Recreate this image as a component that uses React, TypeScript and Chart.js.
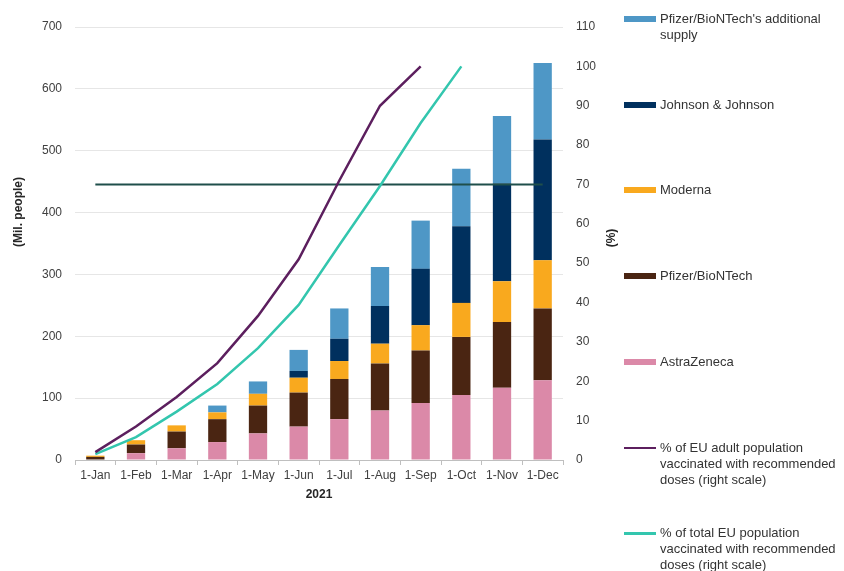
import React, { useEffect, useRef } from "react";
import { Chart, registerables } from "chart.js";

Chart.register(...registerables);

const months = ["1-Jan", "1-Feb", "1-Mar", "1-Apr", "1-May", "1-Jun", "1-Jul", "1-Aug", "1-Sep", "1-Oct", "1-Nov", "1-Dec"];
const astraZeneca = [0, 11, 19, 29, 43, 54, 66, 80, 92, 105, 117, 129];
const pfizerBioNTech = [5, 14, 27, 37, 45, 55, 65, 76, 85, 94, 106, 116];
const moderna = [2, 7, 10, 11, 19, 24, 29, 32, 41, 55, 66, 78];
const johnsonJohnson = [0, 0, 0, 0, 0, 11, 36, 61, 91, 124, 158, 195];
const pfizerAdditional = [0, 0, 0, 11, 20, 34, 49, 63, 78, 93, 109, 124];
const adultVaccinatedPct = [2, 8.5, 16, 24.6, 36.6, 51, 71, 90, 100, null, null, null];
const totalVaccinatedPct = [1.5, 5.8, 12.3, 19.3, 28.4, 39.4, 54.6, 69.6, 85.6, 100, null, null];
const targetPct = [70, 70, 70, 70, 70, 70, 70, 70, 70, 70, 70, 70];
const leftTicks = [0, 100, 200, 300, 400, 500, 600, 700];
const rightTicks = [0, 10, 20, 30, 40, 50, 60, 70, 80, 90, 100, 110];

const COLORS = {
  extra: "#4E97C6",
  jj: "#00305E",
  moderna: "#F9A91E",
  pfizer: "#4A2512",
  az: "#DB89A8",
  adult: "#5C1F5E",
  total: "#33C6AE",
  target: "#1F4F4B",
};

const legendItems = [
  { label: ["Pfizer/BioNTech's additional", "supply"], color: COLORS.extra, kind: "bar" },
  { label: ["Johnson & Johnson"], color: COLORS.jj, kind: "bar" },
  { label: ["Moderna"], color: COLORS.moderna, kind: "bar" },
  { label: ["Pfizer/BioNTech"], color: COLORS.pfizer, kind: "bar" },
  { label: ["AstraZeneca"], color: COLORS.az, kind: "bar" },
  { label: ["% of EU adult population", "vaccinated with recommended", "doses (right scale)"], color: COLORS.adult, kind: "line" },
  { label: ["% of total EU population", "vaccinated with recommended", "doses (right scale)"], color: COLORS.total, kind: "line" },
];

const FONT = "'Liberation Sans', Arial, sans-serif";

export default function App() {
  const canvasRef = useRef<HTMLCanvasElement | null>(null);

  useEffect(() => {
    if (!canvasRef.current) return;
    const barCommon = { yAxisID: "y", stack: "s", order: 2, barPercentage: 1, categoryPercentage: 0.45 };
    const chart = new Chart(canvasRef.current, {
      type: "bar",
      data: {
        labels: months,
        datasets: [
          { type: "line", label: "target", data: targetPct, yAxisID: "y1", borderColor: COLORS.target, borderWidth: 2, pointRadius: 0, order: 1 } as any,
          { type: "line", label: "adult", data: adultVaccinatedPct, yAxisID: "y1", borderColor: COLORS.adult, borderWidth: 2.5, pointRadius: 0, order: 0, spanGaps: false } as any,
          { type: "line", label: "total", data: totalVaccinatedPct, yAxisID: "y1", borderColor: COLORS.total, borderWidth: 2.5, pointRadius: 0, order: 0, spanGaps: false } as any,
          { ...barCommon, label: "AstraZeneca", data: astraZeneca, backgroundColor: COLORS.az },
          { ...barCommon, label: "Pfizer/BioNTech", data: pfizerBioNTech, backgroundColor: COLORS.pfizer },
          { ...barCommon, label: "Moderna", data: moderna, backgroundColor: COLORS.moderna },
          { ...barCommon, label: "Johnson & Johnson", data: johnsonJohnson, backgroundColor: COLORS.jj },
          { ...barCommon, label: "Pfizer/BioNTech's additional supply", data: pfizerAdditional, backgroundColor: COLORS.extra },
        ],
      },
      options: {
        responsive: true,
        maintainAspectRatio: false,
        animation: false,
        layout: { padding: { top: 27, left: 0, right: 241, bottom: 66 } },
        plugins: { legend: { display: false }, tooltip: { enabled: false } },
        scales: {
          x: {
            stacked: true,
            grid: { display: true, drawOnChartArea: false, drawTicks: true, tickLength: 5, color: "#BFBFBF", offset: true },
            border: { display: true, color: "#BFBFBF" },
            ticks: { color: "#404040", font: { family: FONT, size: 12 }, padding: 3, maxRotation: 0, autoSkip: false },
            title: { display: true, text: "2021", color: "#262626", font: { family: FONT, size: 12, weight: "bold" }, padding: { top: 0, bottom: 3 } },
            afterFit: (s: any) => { s.height = 45; },
          },
          y: {
            stacked: true,
            position: "left",
            min: leftTicks[0],
            max: leftTicks[leftTicks.length - 1],
            grid: { color: "#E6E6E6", drawTicks: false },
            border: { display: false },
            ticks: { stepSize: 100, color: "#404040", font: { family: FONT, size: 12 }, padding: 13 },
            afterFit: (s: any) => { s.width = 75; },
          },
          y1: {
            position: "right",
            min: rightTicks[0],
            max: rightTicks[rightTicks.length - 1],
            grid: { drawOnChartArea: false, drawTicks: false },
            border: { display: false },
            ticks: { stepSize: 10, color: "#404040", font: { family: FONT, size: 12 }, padding: 13 },
            afterFit: (s: any) => { s.width = 40; },
          },
        },
      } as any,
    });
    return () => chart.destroy();
  }, []);

  return (
    <div style={{ position: "fixed", left: 0, top: 0, width: 844, height: 571, background: "#fff", fontFamily: FONT, overflow: "hidden" }}>
      <canvas ref={canvasRef} width={844} height={571} style={{ position: "absolute", left: 0, top: 0, width: 844, height: 571 }} />
      <div style={{ position: "absolute", left: 18, top: 212, transform: "translate(-50%, -50%) rotate(-90deg)", whiteSpace: "nowrap", fontSize: 12, fontWeight: "bold", color: "#262626" }}>
        (Mil. people)
      </div>
      <div style={{ position: "absolute", left: 611, top: 238, transform: "translate(-50%, -50%) rotate(-90deg)", whiteSpace: "nowrap", fontSize: 12, fontWeight: "bold", color: "#262626" }}>
        (%)
      </div>
      {legendItems.map((item, i) => {
        const y = 19 + i * 85.7;
        return (
          <div key={i} style={{ position: "absolute", left: 624, top: y - 8, width: 220 }}>
            <div style={{ position: "absolute", left: 0, top: item.kind === "bar" ? 5 : 7, width: 32, height: item.kind === "bar" ? 6 : 2.5, background: item.color }} />
            <div style={{ position: "absolute", left: 36, top: 0, fontSize: 13, lineHeight: "16px", color: "#333", whiteSpace: "nowrap" }}>
              {item.label.map((l, j) => (
                <div key={j}>{l}</div>
              ))}
            </div>
          </div>
        );
      })}
    </div>
  );
}
